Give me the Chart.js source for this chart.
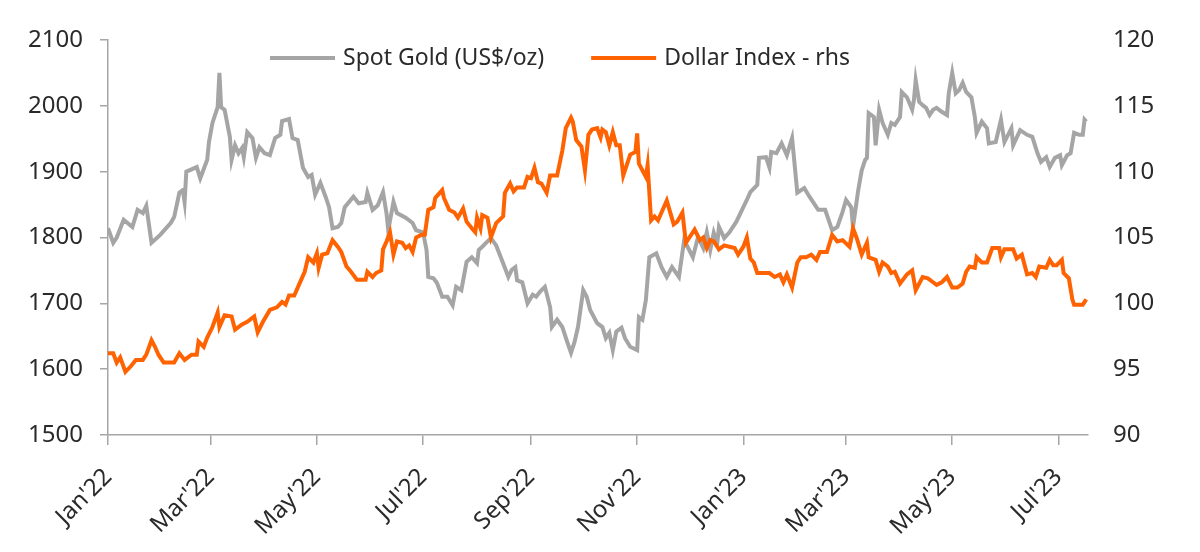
<!DOCTYPE html>
<html>
<head>
<meta charset="utf-8">
<script src="https://cdn.jsdelivr.net/npm/chart.js@4.4.1/dist/chart.umd.min.js"></script>
<style>
  html, body { margin: 0; padding: 0; background: #fff; }
  #wrap { width: 1200px; height: 552px; }
</style>
</head>
<body>
<div id="wrap"><canvas id="myChart" width="1200" height="552"></canvas></div>
<script>
// days counted from 1 Jan 2022
const goldDays = [0,3,5,9,14,17,20,22,25,30,36,38,41,43,44,45,51,53,57,58,60,63,64,65,67,70,71,73,75,77,78,80,83,85,87,90,93,96,99,100,104,106,109,112,115,117,119,122,125,127,129,132,134,136,141,144,148,149,152,155,158,160,161,164,166,171,175,177,181,183,184,187,189,192,195,198,200,203,206,209,212,213,215,218,220,223,227,230,232,234,235,238,241,244,246,248,251,254,255,258,261,264,266,268,270,273,275,277,281,284,286,288,290,292,295,297,300,304,305,307,309,311,315,318,321,324,328,331,336,339,342,344,346,348,350,351,354,357,361,365,367,369,373,374,378,380,381,384,387,390,393,396,400,403,408,412,416,419,422,424,427,428,431,433,435,436,437,440,441,443,445,448,450,452,455,456,459,462,463,464,466,468,470,472,474,476,479,482,483,485,487,489,491,493,496,498,499,502,505,506,510,513,515,519,520,524,528,531,534,536,539,541,544,547,548,551,553,555,558,560,561,562];
const goldValues = [1814,1792,1800,1827,1816,1842,1837,1848,1792,1804,1822,1831,1868,1872,1854,1900,1907,1890,1918,1945,1974,1998,2050,1998,1994,1953,1918,1940,1928,1936,1922,1960,1951,1921,1937,1928,1925,1951,1956,1977,1980,1951,1948,1906,1892,1895,1865,1883,1862,1846,1814,1816,1822,1846,1862,1852,1854,1868,1842,1849,1869,1837,1811,1854,1837,1830,1822,1811,1808,1781,1740,1738,1731,1710,1710,1697,1725,1720,1763,1770,1761,1781,1786,1794,1799,1788,1761,1740,1751,1755,1735,1732,1700,1713,1710,1717,1725,1694,1664,1675,1664,1640,1625,1641,1664,1720,1710,1690,1670,1664,1647,1655,1629,1657,1663,1647,1634,1629,1679,1675,1705,1770,1776,1755,1740,1755,1740,1796,1770,1801,1784,1808,1781,1807,1791,1816,1799,1808,1824,1846,1857,1869,1880,1921,1922,1906,1930,1928,1943,1925,1951,1868,1875,1862,1842,1842,1811,1816,1839,1857,1846,1816,1872,1902,1918,1921,1989,1983,1940,1994,1974,1956,1974,1971,1983,2021,2013,1994,2009,2039,2006,2001,1997,1986,1994,1997,1991,1986,2019,2050,2019,2024,2035,2021,2013,1983,1959,1976,1966,1943,1945,1979,1945,1966,1940,1963,1956,1953,1928,1915,1922,1907,1921,1925,1910,1925,1928,1959,1956,1956,1979,1976];

const dxyDays = [0,3,5,7,10,13,16,20,22,25,27,29,32,36,38,41,44,48,51,52,55,57,60,63,64,67,71,73,77,80,84,86,89,93,97,100,102,104,107,110,113,115,118,120,121,123,126,129,132,134,137,139,143,145,148,149,152,154,157,158,160,162,164,166,169,171,173,175,177,180,182,184,187,188,192,193,196,199,201,204,206,209,211,212,214,215,218,220,223,227,228,231,233,235,239,241,243,245,247,249,252,254,258,261,263,266,267,269,272,274,276,278,281,283,284,286,288,290,292,294,296,300,303,304,305,309,310,312,314,316,319,321,325,327,330,332,334,337,340,342,344,346,348,351,354,357,360,362,365,367,369,371,373,376,380,383,386,388,390,393,396,398,401,404,407,409,413,416,419,422,426,428,430,433,436,437,441,443,445,448,450,452,455,459,462,464,468,471,474,476,479,482,485,488,491,493,495,498,499,502,505,508,512,513,515,520,522,525,528,531,533,535,539,541,543,545,548,549,552,554,555,558,560,562];
const dxyValues = [96.2,96.2,95.5,95.9,94.8,95.2,95.7,95.7,96.1,97.2,96.7,96.1,95.5,95.5,95.5,96.2,95.7,96.1,96.1,97.1,96.7,97.4,98.2,99.3,98.2,99.1,99.0,98.0,98.4,98.6,99.0,97.8,98.6,99.5,99.7,100.1,99.9,100.6,100.6,101.5,102.4,103.5,103.1,103.8,102.7,103.7,103.8,104.8,104.3,103.9,102.8,102.5,101.8,101.8,101.8,102.4,102.0,102.3,102.5,104.1,104.7,105.4,103.7,104.7,104.6,104.2,104.4,103.9,105.0,105.2,105.2,107.1,107.3,108.0,108.6,108.0,107.1,106.9,106.5,107.2,106.2,105.7,105.4,106.5,105.7,106.7,106.5,105.0,106.1,106.6,108.4,109.1,108.5,108.8,108.8,109.6,109.5,110.3,109.2,109.1,108.4,109.7,109.7,111.6,113.3,114.1,113.8,112.4,111.9,110.1,112.8,113.2,113.3,112.6,113.2,113.0,112.0,113.0,112.0,112.0,109.7,111.3,111.5,112.9,110.6,109.6,110.5,106.3,106.6,106.3,107.2,107.8,106.0,106.2,106.9,104.6,105.0,105.6,104.8,105.0,104.2,104.8,104.7,104.1,104.4,104.3,104.2,103.7,104.3,105.0,103.4,103.1,102.3,102.3,102.3,102.0,102.2,101.6,102.2,101.2,103.1,103.5,103.5,103.7,103.3,103.9,103.9,105.2,104.7,104.8,104.3,105.7,105.0,103.7,104.6,103.5,103.3,102.4,103.1,102.8,102.3,102.4,101.5,102.2,102.5,101.0,102.0,101.9,101.6,101.4,101.6,102.0,101.2,101.2,101.5,102.4,102.8,102.7,103.5,103.1,103.1,104.2,104.2,103.5,104.1,104.1,103.4,103.7,102.2,102.3,102.0,102.8,102.7,103.3,102.9,102.9,103.3,102.3,101.9,100.3,99.9,99.9,99.9,100.3];

const tickDays = [0,59,120,181,243,304,365,424,485,546];
const tickLabels = ["Jan'22","Mar'22","May'22","Jul'22","Sep'22","Nov'22","Jan'23","Mar'23","May'23","Jul'23"];

const seriesNames = ["Spot Gold (US$/oz)", "Dollar Index - rhs"];
const GREY = "#a5a5a5";
const ORANGE = "#ff6200";
const AXIS = "#a6a6a6";
const TEXT = "#2a2a2a";
const FONT = "'Noto Sans', sans-serif";

const toPoints = (xs, ys) => xs.map((d, i) => ({ x: d, y: ys[i] }));

//legend sits inside the plot, so draw it ourselves
const insideLegend = {
  id: "insideLegend",
  afterDraw(chart) {
    const { ctx, chartArea } = chart;
    ctx.save();
    ctx.font = "23px " + FONT;
    ctx.textBaseline = "middle";
    let x = chartArea.left + 162;
    const y = chartArea.top + 18;
    chart.data.datasets.forEach((ds) => {
      ctx.strokeStyle = ds.borderColor;
      ctx.lineWidth = 4;
      ctx.beginPath();
      ctx.moveTo(x, y);
      ctx.lineTo(x + 65, y);
      ctx.stroke();
      x += 73;
      ctx.fillStyle = TEXT;
      ctx.fillText(ds.label, x, y);
      x += ctx.measureText(ds.label).width + 47;
    });
    ctx.restore();
  },
};

const ctx = document.getElementById("myChart").getContext("2d");
new Chart(ctx, {
  type: "line",
  data: {
    datasets: [
      {
        label: seriesNames[0],
        data: toPoints(goldDays, goldValues),
        borderColor: GREY,
        borderWidth: 4,
        pointRadius: 0,
        tension: 0,
        yAxisID: "y",
        order: 2,
      },
      {
        label: seriesNames[1],
        data: toPoints(dxyDays, dxyValues),
        borderColor: ORANGE,
        borderWidth: 4,
        pointRadius: 0,
        tension: 0,
        yAxisID: "y1",
        order: 1,
      },
    ],
  },
  options: {
    responsive: false,
    animation: false,
    layout: { padding: { top: 40, left: 0, right: 0, bottom: 0 } },
    plugins: { legend: { display: false }, tooltip: { enabled: false } },
    scales: {
      x: {
        type: "linear",
        min: 0,
        max: 563,
        afterBuildTicks(scale) {
          scale.ticks = tickDays.map((v) => ({ value: v }));
        },
        afterFit(scale) { scale.height = 117; },
        ticks: {
          autoSkip: false,
          maxRotation: 45,
          minRotation: 45,
          padding: 18,
          color: TEXT,
          font: { family: FONT, size: 24 },
          callback: (v) => tickLabels[tickDays.indexOf(v)],
        },
        grid: { drawOnChartArea: false, tickLength: 10, color: AXIS, lineWidth: 1.5 },
        border: { color: AXIS, width: 1.5 },
      },
      y: {
        position: "left",
        min: 1500,
        max: 2100,
        afterFit(scale) { scale.width = 108; },
        ticks: {
          stepSize: 100,
          padding: 17,
          color: TEXT,
          font: { family: FONT, size: 24 },
          callback: (v) => String(v),
        },
        grid: { drawOnChartArea: false, tickLength: 8, color: AXIS, lineWidth: 1.5 },
        border: { color: AXIS, width: 1.5 },
      },
      y1: {
        position: "right",
        min: 90,
        max: 120,
        afterFit(scale) { scale.width = 112; },
        ticks: {
          stepSize: 5,
          padding: 25,
          color: TEXT,
          font: { family: FONT, size: 24 },
          callback: (v) => String(v),
        },
        grid: { display: false, drawTicks: false },
        border: { display: false },
      },
    },
  },
  plugins: [insideLegend],
});
</script>
</body>
</html>
